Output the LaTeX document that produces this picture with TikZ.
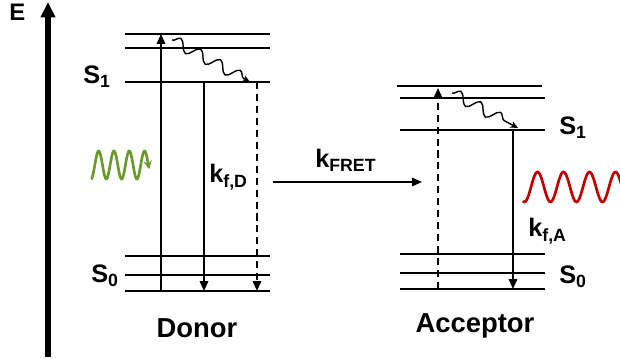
\documentclass[tikz,border=0pt]{standalone}
\usepackage{fontspec}
\setmainfont{Liberation Sans}
\usetikzlibrary{arrows.meta, decorations.pathmorphing}
\definecolor{Leaf}{HTML}{6A9A2C}
\definecolor{Crimson}{HTML}{C00000}
\definecolor{Ink}{HTML}{000000}

\begin{document}
\begin{tikzpicture}[
    x=0.025cm, y=-0.025cm,
    level/.style={draw=Ink, line width=1.5pt},
    trans/.style={-{Triangle[length=7pt, width=6pt]}, line width=1.2pt},
    nonrad/.style={trans, dash pattern=on 5pt off 3.5pt},
    relax/.style={-{Stealth[length=5.5pt, width=5pt]}, line width=1pt,
        decorate, decoration={snake, amplitude=4pt, segment length=16pt, post length=4pt}},
    photon/.style={-{Stealth[length=6pt, width=6pt]}, line width=1.9pt},
    lbl/.style={font=\fontsize{18}{21}\selectfont\bfseries, inner sep=0pt},
    title/.style={font=\fontsize{19.5}{23}\selectfont\bfseries, inner sep=0pt},
    every node/.style={font=\fontsize{18}{21}\selectfont\bfseries}
]
\useasboundingbox (0,0) rectangle (620,359);

% =============================================
% Energy axis
% =============================================
\coordinate (axbot) at (48,357);
\coordinate (axtop) at (48,2);
\draw[-{Triangle[length=11pt, width=10pt]}, line width=3.6pt] (axbot) -- (axtop);
\node[lbl, font=\fontsize{17}{20}\selectfont\bfseries, anchor=base west] (E) at (9,21) {E};

% =============================================
% Donor levels
% =============================================
\foreach \y in {34,48,82,256,275,291}
    \draw[level] (125,\y) -- (270,\y);

\node[lbl, anchor=base east] (S1D) at (111,84) {S\textsubscript{1}};
\node[lbl, anchor=base east] (S0D) at (119,283) {S\textsubscript{0}};

\coordinate (dabsb) at (161,291);
\coordinate (dabst) at (161,34);
\coordinate (dflt) at (204,82);
\coordinate (dflb) at (204,291);
\coordinate (dnrt) at (257,82);
\coordinate (dnrb) at (257,291);
\coordinate (dvrs) at (172,40);
\coordinate (dvre) at (250,82);

\draw[trans] (dabsb) -- (dabst);
\draw[trans] (dflt) -- (dflb);
\draw[nonrad] (dnrt) -- (dnrb);
\draw[relax] (dvrs) -- (dvre);

\node[lbl, anchor=base west] (kfD) at (209,183) {k\textsubscript{f,D}};

% excitation light
\draw[photon, Leaf, domain=0:3.8, samples=120, smooth]
    plot ({91+15.3*\x}, {165+14*cos(360*\x)});

\node[title, anchor=base] (donor) at (197,338) {Donor};

% =============================================
% FRET transfer
% =============================================
\coordinate (fretl) at (273,182);
\coordinate (fretr) at (422,182);
\draw[trans] (fretl) -- (fretr);
\node[lbl, anchor=base west] (kFRET) at (315,168) {k\textsubscript{FRET}};

% =============================================
% Acceptor levels
% =============================================
\draw[level] (397,86) -- (542,86);
\foreach \y in {98,130,254,273,289}
    \draw[level] (400,\y) -- (545,\y);

\node[lbl, anchor=base west] (S1A) at (559,135) {S\textsubscript{1}};
\node[lbl, anchor=base west] (S0A) at (559,284) {S\textsubscript{0}};

\coordinate (aexb) at (438,289);
\coordinate (aext) at (438,88);
\coordinate (aflt) at (513,130);
\coordinate (aflb) at (513,289);
\coordinate (avrs) at (452,93);
\coordinate (avre) at (518,128);

\draw[nonrad] (aexb) -- (aext);
\draw[trans] (aflt) -- (aflb);
\draw[relax] (avrs) -- (avre);

\node[lbl, anchor=base west] (kfA) at (528,237) {k\textsubscript{f,A}};

% emitted light
\draw[photon, Crimson, domain=-0.31:3.9, samples=140, smooth]
    plot ({531+26*\x}, {187-15*sin(360*\x)});

\node[title, anchor=base] (acceptor) at (475,333) {Acceptor};

\end{tikzpicture}
\end{document}
